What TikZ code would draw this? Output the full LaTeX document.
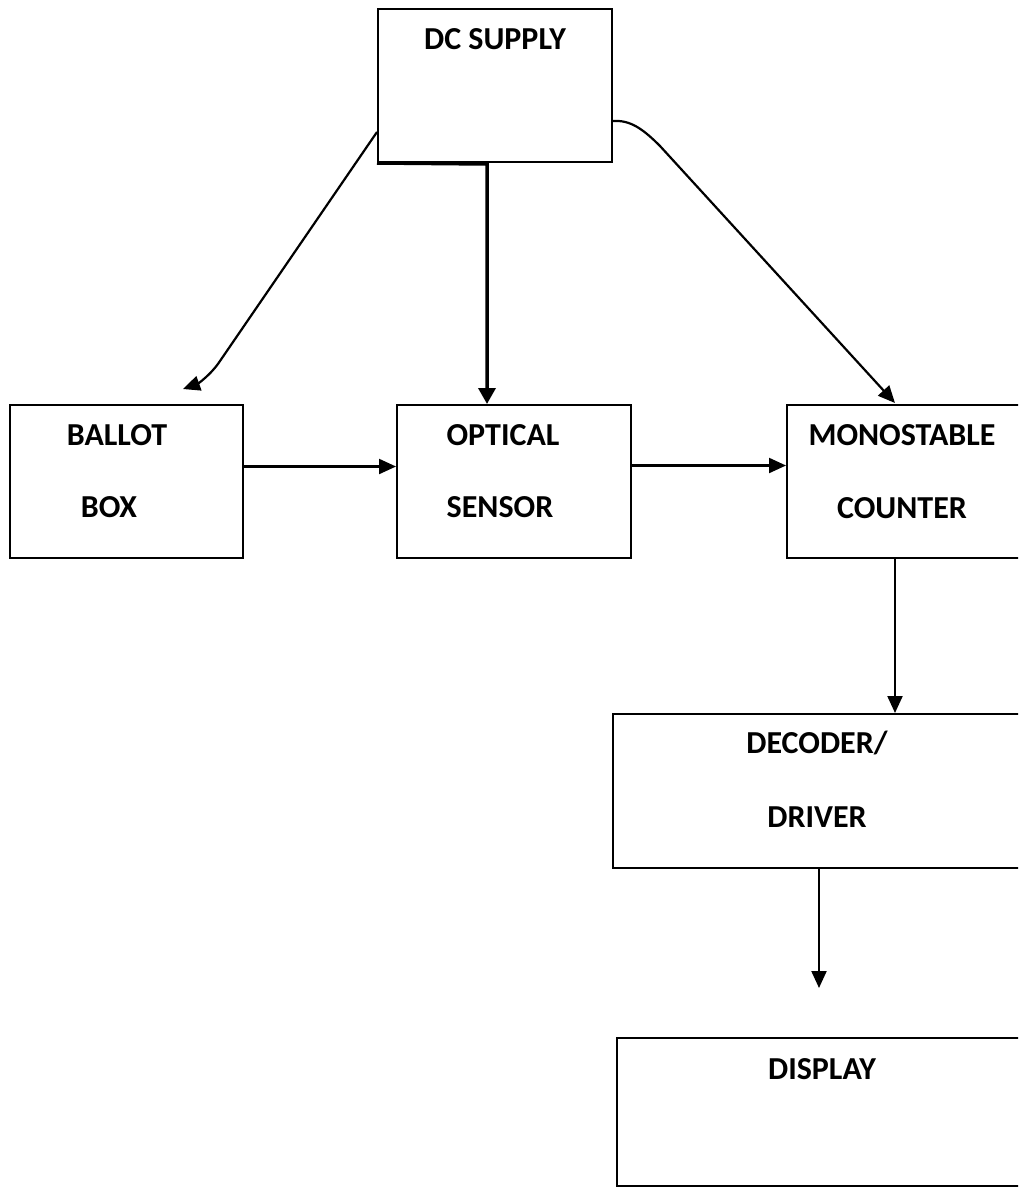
\documentclass[tikz,border=0pt]{standalone}
\usepackage{fontspec}
\setmainfont{Carlito}
\usepackage{tikz}
\usetikzlibrary{arrows.meta}

\begin{document}
\begin{tikzpicture}[x=1pt,y=-1pt,
blk/.style={draw,line width=2pt,inner sep=0pt},
lbl/.style={anchor=base,inner sep=0pt,font=\bfseries\fontsize{32}{38}\selectfont},
arr/.style={line width=2.2pt,-{Triangle[length=17pt,width=15pt]}},
pwr/.style={line width=3.5pt,-{Triangle[length=16pt,width=17pt]}}]
\path[use as bounding box,clip](0,0)rectangle(1018,1192);
\fill[white](0,0)rectangle(1018,1192);
\node[blk,minimum width=234,minimum height=153](dc)at(495,85.5){};
\node[blk,minimum width=233,minimum height=153](ballot)at(126.5,481.5){};
\node[blk,minimum width=234,minimum height=153](opt)at(514,481.5){};
\node[blk,minimum width=240,minimum height=153](mono)at(907,481.5){};
\node[blk,minimum width=408,minimum height=154](dec)at(817,791){};
\node[blk,minimum width=410,minimum height=148](disp)at(822,1112){};
\node[lbl](dc-t)at(495,49){DC SUPPLY};
\node[lbl](ballot-t)at(117,445){BALLOT};
\node[lbl](ballot-b)at(109,517){BOX};
\node[lbl](opt-t)at(503,445){OPTICAL};
\node[lbl](opt-b)at(500,517){SENSOR};
\node[lbl](mono-t)at(902,445){MONOSTABLE};
\node[lbl](mono-b)at(902,518){COUNTER};
\node[lbl](dec-t)at(817,753){DECODER/};
\node[lbl](dec-b)at(817,827){DRIVER};
\node[lbl](disp-t)at(822,1079){DISPLAY};
\coordinate(bb-in)at(183,389);
\coordinate(mono-in)at(895,403);
\coordinate(bend)at(487,164);
\coordinate(disp-in)at(819,988);
\draw[arr]([yshift=-46.5pt]dc.west)--(220,361)
..controls(210,376)and(197,384)..(bb-in);
\draw[pwr](dc.south west)--(bend)--(bend|-opt.north);
\draw[arr]([yshift=-35.5pt]dc.east)..controls(630,120)and(642,128)..(660,146)--(mono-in);
\draw[arr]([yshift=15pt]ballot.east)--([yshift=15pt]opt.west);
\draw[arr]([yshift=16pt]opt.east)--([yshift=16pt]mono.west);
\draw[arr]([xshift=-12pt]mono.south)--([xshift=78pt]dec.north);
\draw[arr]([xshift=2pt]dec.south)--(disp-in);
\end{tikzpicture}
\end{document}
